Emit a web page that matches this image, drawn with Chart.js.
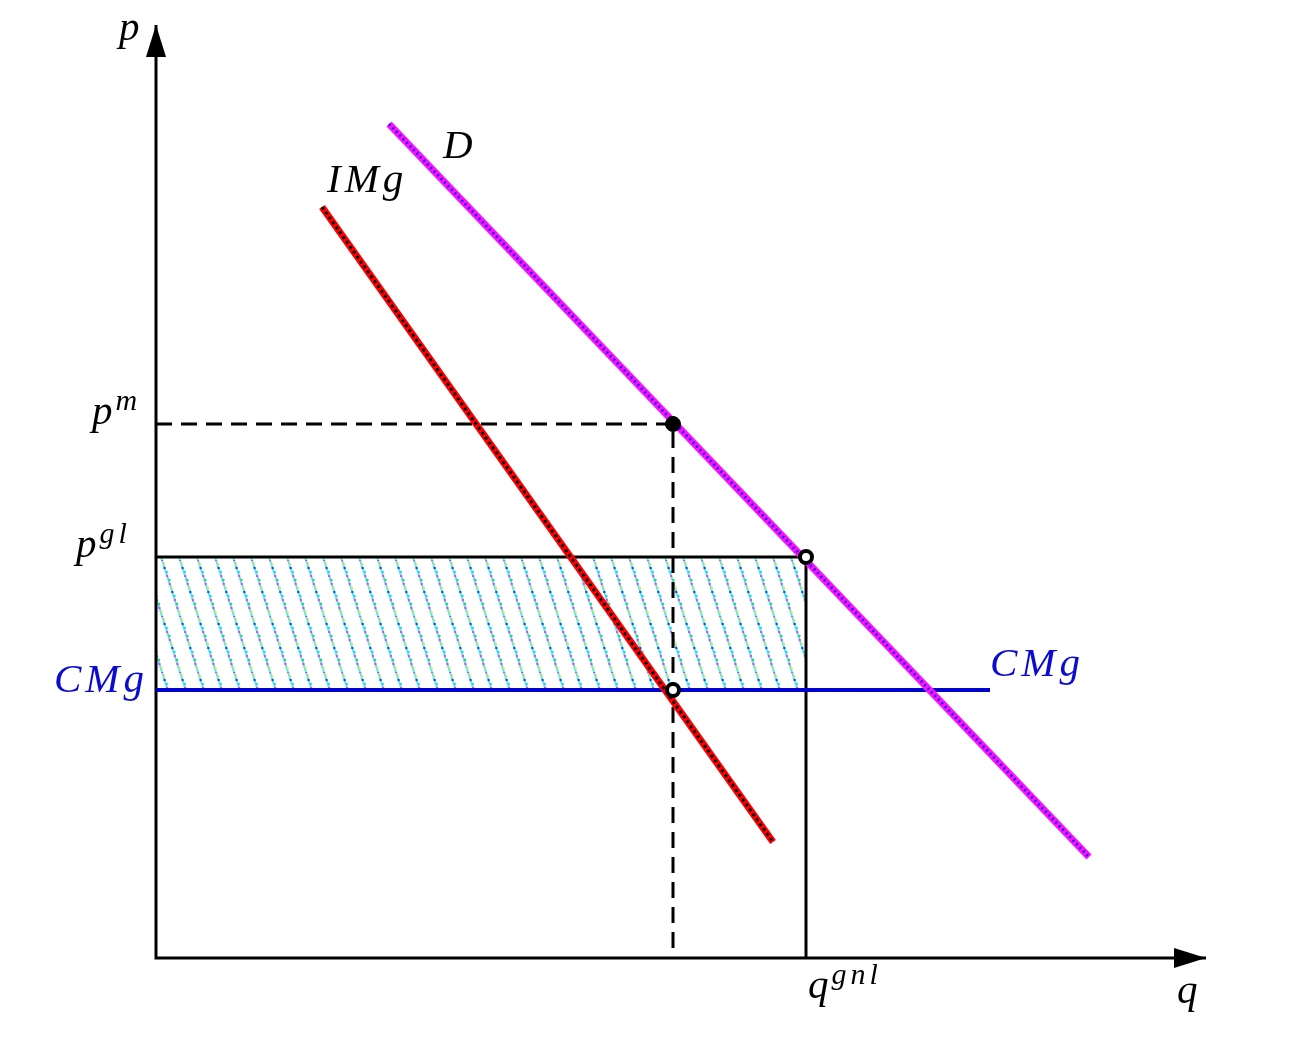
<!DOCTYPE html>
<html>
<head>
<meta charset="utf-8">
<script src="https://cdn.jsdelivr.net/npm/chart.js@4/dist/chart.umd.min.js"></script>
<style>
  body { margin: 0; background: #fff; }
</style>
</head>
<body>
<canvas id="chart" width="1301" height="1038"></canvas>
<script>
// axis extents (q horizontal, p vertical)
var qAxisMax = 105, pAxisMax = 93.3;

// demand D and marginal revenue IMg (two end points each)
var demandQ = [23.3, 93.3], demandP = [83.4, 10.1];
var imgQ = [16.6, 61.7], imgP = [75.1, 11.6];

// marginal cost CMg (flat)
var cmgP = 26.8, cmgEndQ = 83.4;

// monopoly and reference points
var qm = 51.7, pm = 53.4;
var qgnl = 65, pgl = 40.1;

function pts(xs, ys) {
    return xs.map(function (x, i) { return {x: x, y: ys[i]}; });
}

function hatch() {
    var c = document.createElement('canvas');
    c.width = 18; c.height = 56;
    var g = c.getContext('2d');
    var cols = ['#ff33ff', '#f5e63a', '#2233ff', '#22dddd', '#ff33ff', '#33cc55'];
    [-18, 0, 18].forEach(function (dx) {
        g.strokeStyle = '#55e6f2';
        g.lineWidth = 2;
        g.beginPath(); g.moveTo(dx, 0); g.lineTo(dx + 18, 56); g.stroke();
        for (var i = 0; i < 14; i++) {
            var t = i / 14;
            g.fillStyle = cols[i % cols.length];
            g.fillRect(dx + t * 18 - 1 + (i % 2), t * 56 - 1, 2, 2);
        }
    });
    return g.createPattern(c, 'repeat');
}

var blue = '#0a0ad0';
var labels = [
    {text: 'p', x: -3.7, y: 91.8},
    {text: 'q', x: 102.1, y: -4.5},
    {text: 'D', x: 28.7, y: 80},
    {text: 'IMg', x: 17.1, y: 76.6},
    {text: 'p', sup: 'm', x: -6.4, y: pm},
    {text: 'p', sup: 'gl', x: -8, y: pgl},
    {text: 'CMg', x: -0.8, y: cmgP - 0.2, color: blue, align: 'right'},
    {text: 'CMg', x: cmgEndQ, y: cmgP + 1.4, color: blue},
    {text: 'q', sup: 'gnl', x: 65.2, y: -4}
];

var extras = {
    id: 'extras',
    afterDatasetsDraw: function (chart) {
        var ctx = chart.ctx, xs = chart.scales.x, ys = chart.scales.y;
        ctx.save();
        // arrow heads
        ctx.fillStyle = '#000';
        var tx = xs.getPixelForValue(0), ty = ys.getPixelForValue(pAxisMax);
        ctx.beginPath();
        ctx.moveTo(tx, ty); ctx.lineTo(tx - 10, ty + 32); ctx.lineTo(tx + 10, ty + 32);
        ctx.closePath(); ctx.fill();
        var rx = xs.getPixelForValue(qAxisMax), ry = ys.getPixelForValue(0);
        ctx.beginPath();
        ctx.moveTo(rx, ry); ctx.lineTo(rx - 32, ry - 10); ctx.lineTo(rx - 32, ry + 10);
        ctx.closePath(); ctx.fill();
        // text
        ctx.textBaseline = 'alphabetic';
        labels.forEach(function (l) {
            var x = xs.getPixelForValue(l.x), y = ys.getPixelForValue(l.y);
            ctx.fillStyle = l.color || '#000';
            ctx.font = 'italic 41px "Liberation Serif"';
            ctx.letterSpacing = '4px';
            var w = ctx.measureText(l.text).width;
            if (l.align === 'right') x -= w;
            ctx.textAlign = 'left';
            ctx.fillText(l.text, x, y);
            if (l.sup) {
                ctx.font = 'italic 30px "Liberation Serif"';
                ctx.letterSpacing = '4px';
                ctx.fillText(l.sup, x + w - 1, y - 14);
            }
        });
        ctx.restore();
    }
};

function line(data, color, width, dash) {
    return {
        data: data, showLine: true, borderColor: color, borderWidth: width,
        borderDash: dash || [], pointRadius: 0, fill: false, clip: false, tension: 0
    };
}

new Chart(document.getElementById('chart'), {
    type: 'scatter',
    data: {
        datasets: [
            // points on top
            {
                data: [{x: qgnl, y: pgl}, {x: qm, y: cmgP}],
                pointRadius: 6, pointBorderWidth: 4, pointBackgroundColor: '#fff',
                pointBorderColor: '#000', showLine: false, clip: false
            },
            {
                data: [{x: qm, y: pm}],
                pointRadius: 7.5, pointBackgroundColor: '#000', pointBorderColor: '#000',
                showLine: false, clip: false
            },
            line(pts(demandQ, demandP), '#1a1aee', 3, [2, 3]),
            line(pts(demandQ, demandP), '#ff10ff', 7),
            line(pts(imgQ, imgP), '#000', 3, [3, 3]),
            line(pts(imgQ, imgP), '#ff0000', 7),
            line([{x: 0, y: cmgP}, {x: cmgEndQ, y: cmgP}], '#00007a', 1.5, [2, 3]),
            line([{x: 0, y: cmgP}, {x: cmgEndQ, y: cmgP}], '#0000e0', 4),
            line([{x: 0, y: pm}, {x: qm, y: pm}, {x: qm, y: 0}], '#000', 3, [16, 9]),
            line([{x: 0, y: pgl}, {x: qgnl, y: pgl}, {x: qgnl, y: 0}], '#000', 3),
            line([{x: 0, y: pAxisMax}, {x: 0, y: 0}, {x: qAxisMax, y: 0}], '#000', 3),
            {
                data: [{x: 0, y: pgl}, {x: qgnl, y: pgl}], showLine: true,
                borderWidth: 0, pointRadius: 0, fill: {value: cmgP},
                backgroundColor: hatch()
            }
        ]
    },
    options: {
        responsive: false,
        animation: false,
        layout: {padding: {left: 156, right: 95, top: 25, bottom: 80}},
        scales: {
            x: {type: 'linear', min: 0, max: qAxisMax, display: false},
            y: {type: 'linear', min: 0, max: pAxisMax, display: false}
        },
        plugins: {legend: {display: false}, tooltip: {enabled: false}}
    },
    plugins: [extras]
});
</script>
</body>
</html>
